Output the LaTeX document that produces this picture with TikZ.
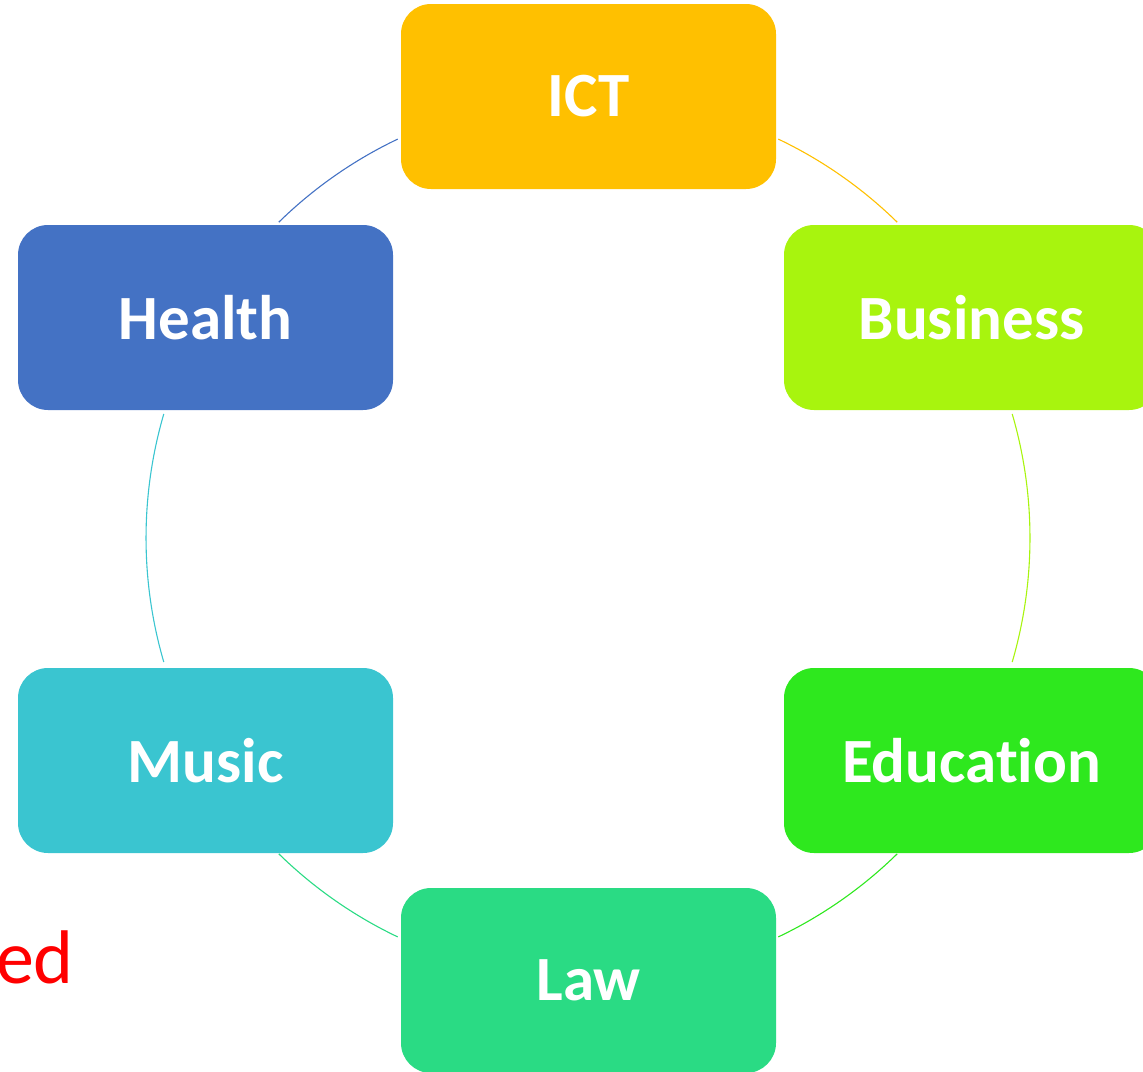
\documentclass[tikz,border=0pt]{standalone}
\usepackage{fontspec}
\setmainfont{Carlito}[Ligatures=NoCommon]
\definecolor{ictc}{HTML}{FFC000}
\definecolor{busc}{HTML}{A8F40E}
\definecolor{educ}{HTML}{2EE81E}
\definecolor{lawc}{HTML}{2ADB84}
\definecolor{musc}{HTML}{3AC5D0}
\definecolor{heac}{HTML}{4472C4}
\begin{document}
\begin{tikzpicture}[x=1pt,y=-1pt,
  topic/.style={rounded corners=30pt, minimum width=375pt, minimum height=185pt,
    inner sep=0pt, text=white, font=\fontsize{63}{76}\selectfont\bfseries},
  link/.style={line width=1.1pt}]
\useasboundingbox (0,0) rectangle (1143,1071);
\clip (0,0) rectangle (1143,1071);
\node[topic, fill=ictc] (ict) at (588.5,96.5) {ICT};
\node[topic, fill=busc] (bus) at (971.5,317.5) {Business};
\node[topic, fill=educ] (edu) at (971.5,760.5) {Education};
\node[topic, fill=lawc] (law) at (588.5,980.5) {Law};
\node[topic, fill=musc] (mus) at (205.5,760.5) {Music};
\node[topic, fill=heac] (hea) at (205.5,317.5) {Health};
\coordinate (ictout) at ([shift={(-64.5:442)}]588,538);
\coordinate (busout) at ([shift={(-16.3:442)}]588,538);
\coordinate (eduout) at ([shift={(45.6:442)}]588,538);
\coordinate (lawout) at ([shift={(115.5:442)}]588,538);
\coordinate (musout) at ([shift={(163.7:442)}]588,538);
\coordinate (heaout) at ([shift={(-134.4:442)}]588,538);
\draw[link, draw=ictc] (ictout) arc[start angle=-64.5, end angle=-45.6, radius=442];
\draw[link, draw=busc] (busout) arc[start angle=-16.3, end angle=16.3, radius=442];
\draw[link, draw=educ] (eduout) arc[start angle=45.6, end angle=64.5, radius=442];
\draw[link, draw=lawc] (lawout) arc[start angle=115.5, end angle=134.4, radius=442];
\draw[link, draw=musc] (musout) arc[start angle=163.7, end angle=196.3, radius=442];
\draw[link, draw=heac] (heaout) arc[start angle=-134.4, end angle=-115.5, radius=442];
\node[anchor=base east, inner sep=0pt, text=red, font=\fontsize{76}{90}\selectfont] (ed) at (74,983) {ed};
\end{tikzpicture}
\end{document}
